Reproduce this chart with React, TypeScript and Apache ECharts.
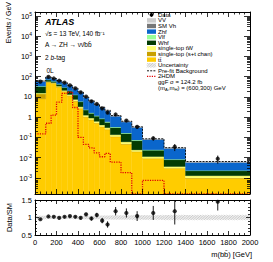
import React, { useEffect, useRef } from "react";
import * as echarts from "echarts";

// ---------------- data ----------------
const binEdges = [0, 100, 150, 200, 250, 300, 350, 400, 450, 500, 550, 600, 650, 700, 800, 900, 1000, 1200, 1400, 2000];

// Events / GeV per bin, stacked bottom -> top
const ttbar = [8, 52, 46, 30, 18, 11, 6, 2.6, 1.0, 0.72, 0.5, 0.33, 0.24, 0.105, 0.045, 0.019, 0.0089, 0.0029, 0.00093];
const stopST = [6, 3, 2, 1.5, 1, 0.6, 0.4, 0.15, 0.05, 0.03, 0.02, 0.01, 0.01, 0.005, 0.003, 0.001, 0.0003, 0.0001, 0.00005];
const stopWt = [1.5, 3, 3, 2.5, 2, 1.5, 1.1, 0.5, 0.2, 0.15, 0.1, 0.07, 0.05, 0.025, 0.012, 0.004, 0.002, 0.0006, 0.0003];
const whf = [17, 12, 8, 8, 8, 6.5, 5, 2.5, 1.0, 0.65, 0.5, 0.4, 0.25, 0.17, 0.095, 0.045, 0.012, 0.0043, 0.00095];
const vlf = [1.5, 1, 0.8, 0.7, 0.6, 0.5, 0.4, 0.25, 0.1, 0.08, 0.06, 0.05, 0.04, 0.02, 0.01, 0.005, 0.001, 0.0004, 0.0001];
const zhf = [25, 23, 19, 20, 19, 15, 12.5, 10.7, 7.0, 4.55, 2.9, 2.05, 1.45, 0.8, 0.42, 0.24, 0.055, 0.0205, 0.0035];
const smVh = [0.3, 0.5, 0.6, 0.6, 0.6, 0.4, 0.3, 0.15, 0.07, 0.06, 0.06, 0.05, 0.03, 0.01, 0.008, 0.003, 0.0004, 0.0002, 0.00005];
const vv = [0.7, 0.5, 0.6, 0.7, 0.8, 0.5, 0.3, 0.15, 0.08, 0.06, 0.06, 0.04, 0.03, 0.015, 0.007, 0.003, 0.0004, 0.0003, 0.0001];

const dataVals = [57, 98, 82, 63.4, 51, 37.4, 26.5, 16.8, 10.4, 6.1, 4.5, 2.73, 1.68, 1.36, 0.68, 0.333, 0.09, 0.034, 0.0088];
const dataErrs = [0.8, 1.4, 1.3, 1.1, 1.0, 0.85, 0.7, 0.55, 0.45, 0.35, 0.3, 0.23, 0.18, 0.12, 0.08, 0.058, 0.021, 0.013, 0.0038];
const prefitBkg = [62, 97, 81, 65, 51, 37, 27, 17.5, 9.8, 6.5, 4.35, 3.1, 2.2, 1.2, 0.63, 0.335, 0.085, 0.031, 0.0064];
const signal2HDM = [0.15, 0.5, 1.25, 5.5, 15, 17, 3, 0.1, 0.045, 0.03, 0.017, 0.011, 0.016, 0.006, 0.0018, 0, 0.00075, 0, 0];

const ratioVals = [0.95, 1.03, 1.02, 0.99, 1.02, 1.04, 1.02, 0.99, 1.09, 0.97, 1.07, 0.91, 0.8, 1.18, 1.13, 1.04, 1.13, 1.18, 1.45];
const ratioErrs = [0.015, 0.015, 0.016, 0.017, 0.02, 0.024, 0.027, 0.032, 0.045, 0.055, 0.065, 0.075, 0.09, 0.12, 0.13, 0.14, 0.2, 0.38, 0.25];
const uncertBand = [0.05, 0.04, 0.04, 0.04, 0.04, 0.04, 0.045, 0.045, 0.05, 0.05, 0.05, 0.055, 0.055, 0.06, 0.06, 0.065, 0.065, 0.07, 0.07];

const yTickExp = [-3, -2, -1, 0, 1, 2, 3, 4, 5];
const xTickStep = 200;
const ratioTicks = [0.5, 1, 1.5];

const legendLabels = ["Data", "VV", "SM Vh", "Zhf", "Vlf", "Whf", "single-top tW", "single-top (s+t chan)", "tt\u0304", "Uncertainty", "Pre-fit Background", "2HDM"];

// ---------------- styling ----------------
const FONT = "'Liberation Sans', Arial, Helvetica, sans-serif";
const Y_MIN = -3.8;
const Y_MAX = 5.2;
const GL = 35;
const GW = 215;

const components = [
  { vals: ttbar, color: "#ffcc00" },
  { vals: stopST, color: "#c9a000" },
  { vals: stopWt, color: "#ffff70" },
  { vals: whf, color: "#033c03" },
  { vals: vlf, color: "#99ff99" },
  { vals: zhf, color: "#0a66cc" },
  { vals: smVh, color: "#777777" },
  { vals: vv, color: "#cccccc" },
];
const legendColors = ["#cccccc", "#777777", "#0a66cc", "#99ff99", "#033c03", "#ffff70", "#c9a000", "#ffcc00"];

const lg = (v: number) => (v > 0 ? Math.min(Y_MAX, Math.max(Y_MIN, Math.log10(v))) : Y_MIN);

function hatch(x: number, y: number, w: number, h: number, s: number, stroke: string, lw: number) {
  const out: any[] = [];
  const cStart = Math.ceil((x + y) / s) * s;
  for (let c = cStart; c < x + w + y + h; c += s) {
    const px0 = Math.max(x, c - (y + h));
    const px1 = Math.min(x + w, c - y);
    if (px1 <= px0) continue;
    out.push({ type: "line", shape: { x1: px0, y1: c - px0, x2: px1, y2: c - px1 }, style: { stroke, lineWidth: lw } });
  }
  return out;
}

function buildOption() {
  const nb = binEdges.length - 1;
  const centers = binEdges.slice(0, -1).map((e, i) => (e + binEdges[i + 1]) / 2);
  const cum = new Array(nb).fill(0);

  const stackSeries = components.map((c) => {
    const data = c.vals.map((v, i) => {
      const lo = cum[i];
      const hi = lo + v;
      cum[i] = hi;
      return [binEdges[i], binEdges[i + 1], lg(lo), lg(hi)];
    });
    return {
      type: "custom",
      xAxisIndex: 0,
      yAxisIndex: 0,
      silent: true,
      z: 2,
      encode: { x: [0, 1], y: [2, 3] },
      data,
      renderItem: (params: any, api: any) => {
        const a = api.coord([api.value(0), api.value(3)]);
        const b = api.coord([api.value(1), api.value(2)]);
        return {
          type: "rect",
          shape: { x: a[0], y: a[1], width: b[0] - a[0], height: b[1] - a[1] },
          style: { fill: c.color, stroke: c.color, lineWidth: 0.3 },
        };
      },
    };
  });

  const stepData = (vals: number[]) => [
    ...vals.map((v, i) => [binEdges[i], lg(v)]),
    [binEdges[nb], lg(vals[nb - 1])],
  ];

  const majorLab = (e: number) => {
    if (e === 0) return "{b|1}";
    if (e === 1) return "{b|10}";
    return "{b|10}{s|" + e + "}";
  };
  const minorLog: number[] = [];
  for (let k = -4; k <= 5; k++) {
    for (let m = 2; m <= 9; m++) {
      const v = k + Math.log10(m);
      if (v > Y_MIN && v < Y_MAX) minorLog.push(v);
    }
  }

  const lineBlack = { color: "#000", width: 0.8 };
  const xAxisDef = (gridIndex: number, position: string, showLabels: boolean, tickLen: number) => ({
    type: "value",
    gridIndex,
    position,
    min: 0,
    max: 2000,
    interval: xTickStep,
    z: 10,
    axisLine: { show: true, onZero: false, lineStyle: { color: "#000", width: 1 } },
    axisTick: { show: true, inside: true, length: tickLen, lineStyle: lineBlack },
    minorTick: { show: true, splitNumber: 4, length: tickLen / 2, lineStyle: lineBlack },
    splitLine: { show: false },
    axisLabel: { show: showLabels, fontSize: 7.5, color: "#000", margin: 3, fontFamily: FONT, formatter: (v: number) => String(v) },
  });
  const yMainDef = (position: string, values: number[], len: number, labels: boolean, line: boolean) => ({
    type: "value",
    gridIndex: 0,
    position,
    min: Y_MIN,
    max: Y_MAX,
    z: 10,
    axisLine: { show: line, onZero: false, lineStyle: { color: "#000", width: 1 } },
    axisTick: { show: true, inside: true, length: len, customValues: values, lineStyle: lineBlack },
    minorTick: { show: false },
    splitLine: { show: false },
    axisLabel: labels
      ? {
          show: true,
          customValues: yTickExp,
          formatter: (v: number) => majorLab(Math.round(v)),
          margin: 3,
          color: "#000",
          rich: {
            b: { fontSize: 7.5, fontFamily: FONT, color: "#000", verticalAlign: "bottom" },
            s: { fontSize: 5, fontFamily: FONT, color: "#000", verticalAlign: "top", padding: [0, 0, 4, 0] },
          },
        }
      : { show: false },
  });
  const yRatioDef = (position: string, labels: boolean) => ({
    type: "value",
    gridIndex: 1,
    position,
    min: 0.5,
    max: 1.5,
    interval: 0.5,
    z: 10,
    axisLine: { show: true, onZero: false, lineStyle: { color: "#000", width: 1 } },
    axisTick: { show: true, inside: true, length: 4, customValues: ratioTicks, lineStyle: lineBlack },
    minorTick: { show: true, splitNumber: 5, length: 2, lineStyle: lineBlack },
    splitLine: { show: false },
    axisLabel: { show: labels, customValues: ratioTicks, fontSize: 7.5, color: "#000", margin: 3, fontFamily: FONT, formatter: (v: number) => String(v) },
  });

  // ---------- legend graphics ----------
  const g: any[] = [];
  const lx0 = 147;
  const lw = 9;
  const ltx = 158;
  const ly0 = 14.8;
  const ldy = 5.6;
  legendLabels.forEach((lab, i) => {
    const y = ly0 + i * ldy;
    g.push({ type: "text", x: ltx, y, style: { text: lab, fontSize: 6, fontFamily: FONT, fill: "#000", align: "left", verticalAlign: "middle" } });
    if (i === 0) {
      g.push({ type: "line", shape: { x1: lx0 + lw / 2, y1: y - 2, x2: lx0 + lw / 2, y2: y + 2 }, style: { stroke: "#000", lineWidth: 0.8 } });
      g.push({ type: "circle", shape: { cx: lx0 + lw / 2, cy: y, r: 1.9 }, style: { fill: "#000" } });
    } else if (i >= 1 && i <= 8) {
      g.push({ type: "rect", shape: { x: lx0, y: y - 2.2, width: lw, height: 4.4 }, style: { fill: legendColors[i - 1] } });
    } else if (i === 9) {
      hatch(lx0, y - 2.2, lw, 4.4, 1.6, "#9a9a9a", 0.5).forEach((h) => g.push(h));
    } else if (i === 10) {
      g.push({ type: "line", shape: { x1: lx0, y1: y, x2: lx0 + lw, y2: y }, style: { stroke: "#000", lineWidth: 0.9, lineDash: [2, 1.2] } });
    } else if (i === 11) {
      g.push({ type: "line", shape: { x1: lx0, y1: y, x2: lx0 + lw, y2: y }, style: { stroke: "#e00000", lineWidth: 1.3, lineDash: [1.2, 1.2] } });
    }
  });
  g.push({ type: "text", x: ltx, y: 82.4, style: { text: "ggF \u03c3 = 124.2 fb", fontSize: 6, fontFamily: FONT, fill: "#000", align: "left", verticalAlign: "middle" } });
  g.push({
    type: "text",
    x: ltx,
    y: 88.2,
    style: {
      text: "(m{s|A},m{s|H}) = (600,300) GeV",
      fontSize: 6,
      fontFamily: FONT,
      fill: "#000",
      align: "left",
      verticalAlign: "middle",
      rich: { s: { fontSize: 4.2, fontFamily: FONT, fill: "#000", verticalAlign: "bottom", padding: [3, 0, 0, 0] } },
    },
  });

  // ATLAS labels
  g.push({ type: "text", x: 45, y: 21.5, style: { text: "ATLAS", fontSize: 9, fontWeight: "bold", fontStyle: "italic", fontFamily: FONT, fill: "#000", align: "left", verticalAlign: "middle" } });
  g.push({ type: "text", x: 45, y: 33, style: { text: "\u221as = 13 TeV, 140 fb\u207b\u00b9", fontSize: 6.5, fontFamily: FONT, fill: "#000", align: "left", verticalAlign: "middle" } });
  g.push({ type: "text", x: 45, y: 44.5, style: { text: "A \u2192 ZH \u2192 \u03bd\u03bd\u0304bb\u0304", fontSize: 6.5, fontFamily: FONT, fill: "#000", align: "left", verticalAlign: "middle" } });
  g.push({
    type: "text",
    x: 45,
    y: 57.5,
    style: { text: "2 {i|b}-tag", fontSize: 6.5, fontFamily: FONT, fill: "#000", align: "left", verticalAlign: "middle", rich: { i: { fontSize: 6.5, fontStyle: "italic", fontFamily: FONT, fill: "#000" } } },
  });
  g.push({ type: "text", x: 46.5, y: 70, style: { text: "0L", fontSize: 6.5, fontFamily: FONT, fill: "#000", align: "left", verticalAlign: "middle" } });

  // axis titles
  g.push({ type: "text", x: 8, y: 2, rotation: Math.PI / 2, style: { text: "Events / GeV", fontSize: 7, fontFamily: FONT, fill: "#000", align: "right", verticalAlign: "middle" } });
  g.push({ type: "text", x: 9, y: 217.5, rotation: Math.PI / 2, style: { text: "Data/SM", fontSize: 7.5, fontFamily: FONT, fill: "#000", align: "center", verticalAlign: "middle" } });
  g.push({ type: "text", x: 252, y: 254, style: { text: "m(bb\u0304) [GeV]", fontSize: 7.5, fontFamily: FONT, fill: "#000", align: "right", verticalAlign: "middle" } });

  const series: any[] = [
    ...stackSeries,
    {
      type: "line",
      xAxisIndex: 0,
      yAxisIndex: 0,
      step: "end",
      symbol: "none",
      silent: true,
      z: 5,
      data: stepData(signal2HDM),
      lineStyle: { color: "#e00000", width: 1.3, type: [1.2, 1.2] },
    },
    {
      type: "line",
      xAxisIndex: 0,
      yAxisIndex: 0,
      step: "end",
      symbol: "none",
      silent: true,
      z: 6,
      data: stepData(prefitBkg),
      lineStyle: { color: "#000", width: 0.9, type: [2, 1.2] },
    },
    {
      type: "custom",
      xAxisIndex: 0,
      yAxisIndex: 0,
      z: 7,
      silent: true,
      encode: { x: 0, y: [1, 2] },
      data: dataVals.map((v, i) => [centers[i], lg(v - dataErrs[i]), lg(v + dataErrs[i])]),
      renderItem: (params: any, api: any) => {
        const p0 = api.coord([api.value(0), api.value(1)]);
        const p1 = api.coord([api.value(0), api.value(2)]);
        return { type: "line", shape: { x1: p0[0], y1: p0[1], x2: p1[0], y2: p1[1] }, style: { stroke: "#000", lineWidth: 0.9 } };
      },
    },
    {
      type: "scatter",
      xAxisIndex: 0,
      yAxisIndex: 0,
      z: 8,
      silent: true,
      symbol: "circle",
      symbolSize: 4.2,
      itemStyle: { color: "#000" },
      data: dataVals.map((v, i) => [centers[i], lg(v)]),
    },
    // ratio panel
    {
      type: "custom",
      xAxisIndex: 2,
      yAxisIndex: 4,
      z: 2,
      silent: true,
      encode: { x: [0, 1], y: [2, 3] },
      data: uncertBand.map((u, i) => [binEdges[i], binEdges[i + 1], 1 - u, 1 + u]),
      renderItem: (params: any, api: any) => {
        const a = api.coord([api.value(0), api.value(3)]);
        const b = api.coord([api.value(1), api.value(2)]);
        return { type: "group", children: hatch(a[0], a[1], b[0] - a[0], b[1] - a[1], 1.6, "#9a9a9a", 0.5) };
      },
    },
    {
      type: "custom",
      xAxisIndex: 2,
      yAxisIndex: 4,
      z: 7,
      silent: true,
      encode: { x: 0, y: [1, 2] },
      data: ratioVals.map((v, i) => [centers[i], v - ratioErrs[i], v + ratioErrs[i]]),
      renderItem: (params: any, api: any) => {
        const cs = params.coordSys;
        const p0 = api.coord([api.value(0), api.value(1)]);
        const p1 = api.coord([api.value(0), api.value(2)]);
        const clampY = (y: number) => Math.max(cs.y, Math.min(cs.y + cs.height, y));
        return { type: "line", shape: { x1: p0[0], y1: clampY(p0[1]), x2: p1[0], y2: clampY(p1[1]) }, style: { stroke: "#000", lineWidth: 0.9 } };
      },
    },
    {
      type: "scatter",
      xAxisIndex: 2,
      yAxisIndex: 4,
      z: 8,
      silent: true,
      symbol: "circle",
      symbolSize: 4.2,
      itemStyle: { color: "#000" },
      data: ratioVals.map((v, i) => [centers[i], v]),
    },
  ];

  return {
    animation: false,
    backgroundColor: "#fff",
    textStyle: { fontFamily: FONT },
    grid: [
      { left: GL, top: 12, width: GW, height: 182 },
      { left: GL, top: 200, width: GW, height: 35 },
    ],
    xAxis: [
      xAxisDef(0, "bottom", false, 5),
      xAxisDef(0, "top", false, 5),
      xAxisDef(1, "bottom", true, 4),
      xAxisDef(1, "top", false, 4),
    ],
    yAxis: [
      yMainDef("left", yTickExp, 6, true, true),
      yMainDef("left", minorLog, 3, false, false),
      yMainDef("right", yTickExp, 6, false, true),
      yMainDef("right", minorLog, 3, false, false),
      yRatioDef("left", true),
      yRatioDef("right", false),
    ],
    series,
    graphic: g,
  };
}

export default function App() {
  const ref = useRef<HTMLDivElement>(null);
  useEffect(() => {
    const chart = echarts.init(ref.current!, null, { renderer: "svg" });
    chart.setOption(buildOption() as any);
    return () => chart.dispose();
  }, []);
  return <div ref={ref} style={{ position: "fixed", left: 0, top: 0, width: 273, height: 262, background: "#fff" }} />;
}
